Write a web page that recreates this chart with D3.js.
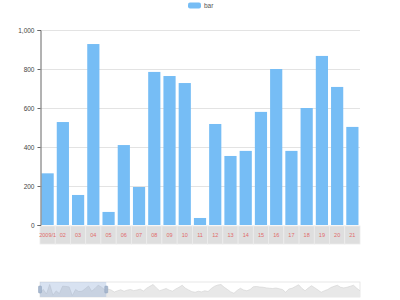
<!DOCTYPE html>
<html><head><meta charset="utf-8">
<script src="https://cdn.jsdelivr.net/npm/d3@7"></script>
<style>body{margin:0;background:#fff}svg{display:block;font-family:"Liberation Sans",Arial,sans-serif}</style>
</head><body><svg id="c" width="400" height="300"></svg>
<script>
const seriesName = "bar";
const tickLabels = ["2009/1","02","03","04","05","06","07","08","09","10","11","12","13","14","15","16","17","18","19","20","21"];
const barValues = [265,528,154,928,67,410,195,785,764,728,36,518,354,380,580,800,380,600,867,708,503];
const restValues = [560,480,320,420,500,380,470,520,430,480,550,400,620,780,920,650,420,510,600,470,390,560,700,860,620,480,350,300,380,330,420,360,600,780,880,920,700,520,330,220,450,620,480,420,520,740,760,720,700,650,620,600,640,580,520,300,560,620,760,900,620,420,640,820,660,480,300,420,520,680,780,860,700,650,700,780,860,620,420];
const yTicks = [0,200,400,600,800,1000];

const allValues = barValues.concat(restValues);
const svg = d3.select("#c");
const L = 40, R = 360, T = 30, B = 225;

const x = d3.scaleBand().domain(tickLabels).range([L, R]).paddingInner(0.2).paddingOuter(0.1);
const xb = d3.scaleBand().domain(tickLabels).range([L, R]);
const y = d3.scaleLinear().domain([0, 1000]).range([B, T]);

// grid
svg.append("g").selectAll("line").data(yTicks.filter(d => d > 0)).join("line")
  .attr("x1", L).attr("x2", R).attr("y1", d => y(d) + 0.5).attr("y2", d => y(d) + 0.5)
  .attr("stroke", "#e3e3e3").attr("stroke-width", 1);

// x label cells
const cells = svg.append("g");
cells.selectAll("rect").data(tickLabels).join("rect")
  .attr("x", d => xb(d)).attr("y", B + 1).attr("width", xb.bandwidth()).attr("height", 18)
  .attr("fill", "#dedede").attr("stroke", "#ececec").attr("stroke-width", 0.8);
cells.selectAll("text").data(tickLabels).join("text")
  .attr("x", d => xb(d) + xb.bandwidth() / 2).attr("y", B + 12)
  .attr("text-anchor", "middle").attr("font-size", 5.5).attr("fill", "#e06a6a")
  .text(d => d);

// bars
svg.append("g").selectAll("rect").data(barValues).join("rect")
  .attr("x", (d, i) => x(tickLabels[i])).attr("width", x.bandwidth())
  .attr("y", d => y(d)).attr("height", d => B - y(d))
  .attr("fill", "#76bdf5");

// y axis
const ya = svg.append("g").attr("transform", `translate(${L + 0.5},0)`)
  .call(d3.axisLeft(y).tickValues(yTicks).tickSize(3).tickPadding(3).tickFormat(d3.format(",")));
ya.select(".domain").attr("stroke", "#666");
ya.selectAll(".tick line").attr("stroke", "#666");
ya.selectAll(".tick text").attr("font-size", 6.5).attr("fill", "#444").attr("font-family", "Liberation Sans, Arial, sans-serif");

// legend
svg.append("rect").attr("x", 188).attr("y", 2.5).attr("width", 13).attr("height", 6).attr("rx", 2).attr("fill", "#76bdf5");
svg.append("text").attr("x", 204).attr("y", 8).attr("font-size", 6.5).attr("fill", "#555").text(seriesName);

// data zoom slider
const sT = 282, sB = 297;
const sx = d3.scaleLinear().domain([0, allValues.length - 1]).range([L, R]);
const sy = d3.scaleLinear().domain([0, 1000]).range([sB - 1, sT + 1.5]);
svg.append("rect").attr("x", L).attr("y", sT).attr("width", R - L).attr("height", sB - sT)
  .attr("fill", "none").attr("stroke", "#e2e2e2").attr("stroke-width", 0.8);
const area = d3.area().x((d, i) => sx(i)).y0(sB).y1(d => sy(d));
svg.append("path").datum(allValues).attr("d", area).attr("fill", "#e8e8e8");
svg.append("path").datum(allValues).attr("d", d3.line().x((d, i) => sx(i)).y(d => sy(d)))
  .attr("fill", "none").attr("stroke", "#d2d2d2").attr("stroke-width", 0.6);
const selEnd = sx(barValues.length - 1 + 0.5);
svg.append("rect").attr("x", L).attr("y", sT).attr("width", selEnd - L).attr("height", sB - sT)
  .attr("fill", "rgba(135,165,210,0.32)");
[L, selEnd].forEach(hx => {
  svg.append("rect").attr("x", hx - 1.5).attr("y", sT + 4).attr("width", 3).attr("height", 7)
    .attr("rx", 0.8).attr("fill", "#a8b8cf").attr("stroke", "#8fa2bd").attr("stroke-width", 0.5);
});
</script></body></html>
